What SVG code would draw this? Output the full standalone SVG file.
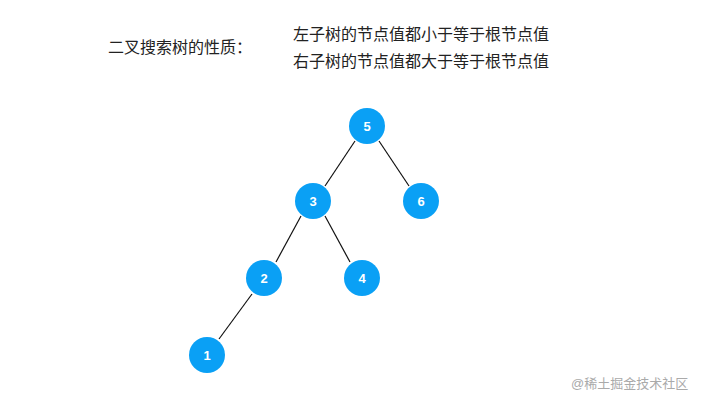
<svg xmlns="http://www.w3.org/2000/svg" width="720" height="405" viewBox="0 0 720 405">
<style>
.t{font-family:"Liberation Sans","Noto Sans CJK SC",sans-serif;font-size:16px;fill:#222}
.n circle{fill:#0aa0f5}
.n text{font-family:"Liberation Sans",sans-serif;font-size:13px;font-weight:bold;fill:#fff;text-anchor:middle}
.e line{stroke:#111;stroke-width:1.2}
</style>
<rect width="720" height="405" fill="#fff"/>
<text class="t" x="108" y="53">二叉搜索树的性质：</text>
<text class="t" x="293" y="40">左子树的节点值都小于等于根节点值</text>
<text class="t" x="293" y="67">右子树的节点值都大于等于根节点值</text>
<g class="e" id="edges">
<line x1="355" y1="141" x2="325" y2="186"/>
<line x1="379" y1="141" x2="409" y2="186"/>
<line x1="301" y1="216" x2="276" y2="262"/>
<line x1="325" y1="216" x2="350" y2="262"/>
<line x1="252" y1="294" x2="219" y2="339"/>
</g>
<g class="n" id="n5"><circle cx="367" cy="126" r="18"/><text x="367" y="131">5</text></g>
<g class="n" id="n3"><circle cx="313" cy="201" r="18"/><text x="313" y="206">3</text></g>
<g class="n" id="n6"><circle cx="421" cy="201" r="18"/><text x="421" y="206">6</text></g>
<g class="n" id="n2"><circle cx="264" cy="278" r="18"/><text x="264" y="283">2</text></g>
<g class="n" id="n4"><circle cx="362" cy="278" r="18"/><text x="362" y="283">4</text></g>
<g class="n" id="n1"><circle cx="207" cy="355" r="18"/><text x="207" y="360">1</text></g>
<text x="571" y="388" style="font-family:'Liberation Sans','Noto Sans CJK SC',sans-serif;font-size:13px;fill:#aaa">@稀土掘金技术社区</text>
</svg>
